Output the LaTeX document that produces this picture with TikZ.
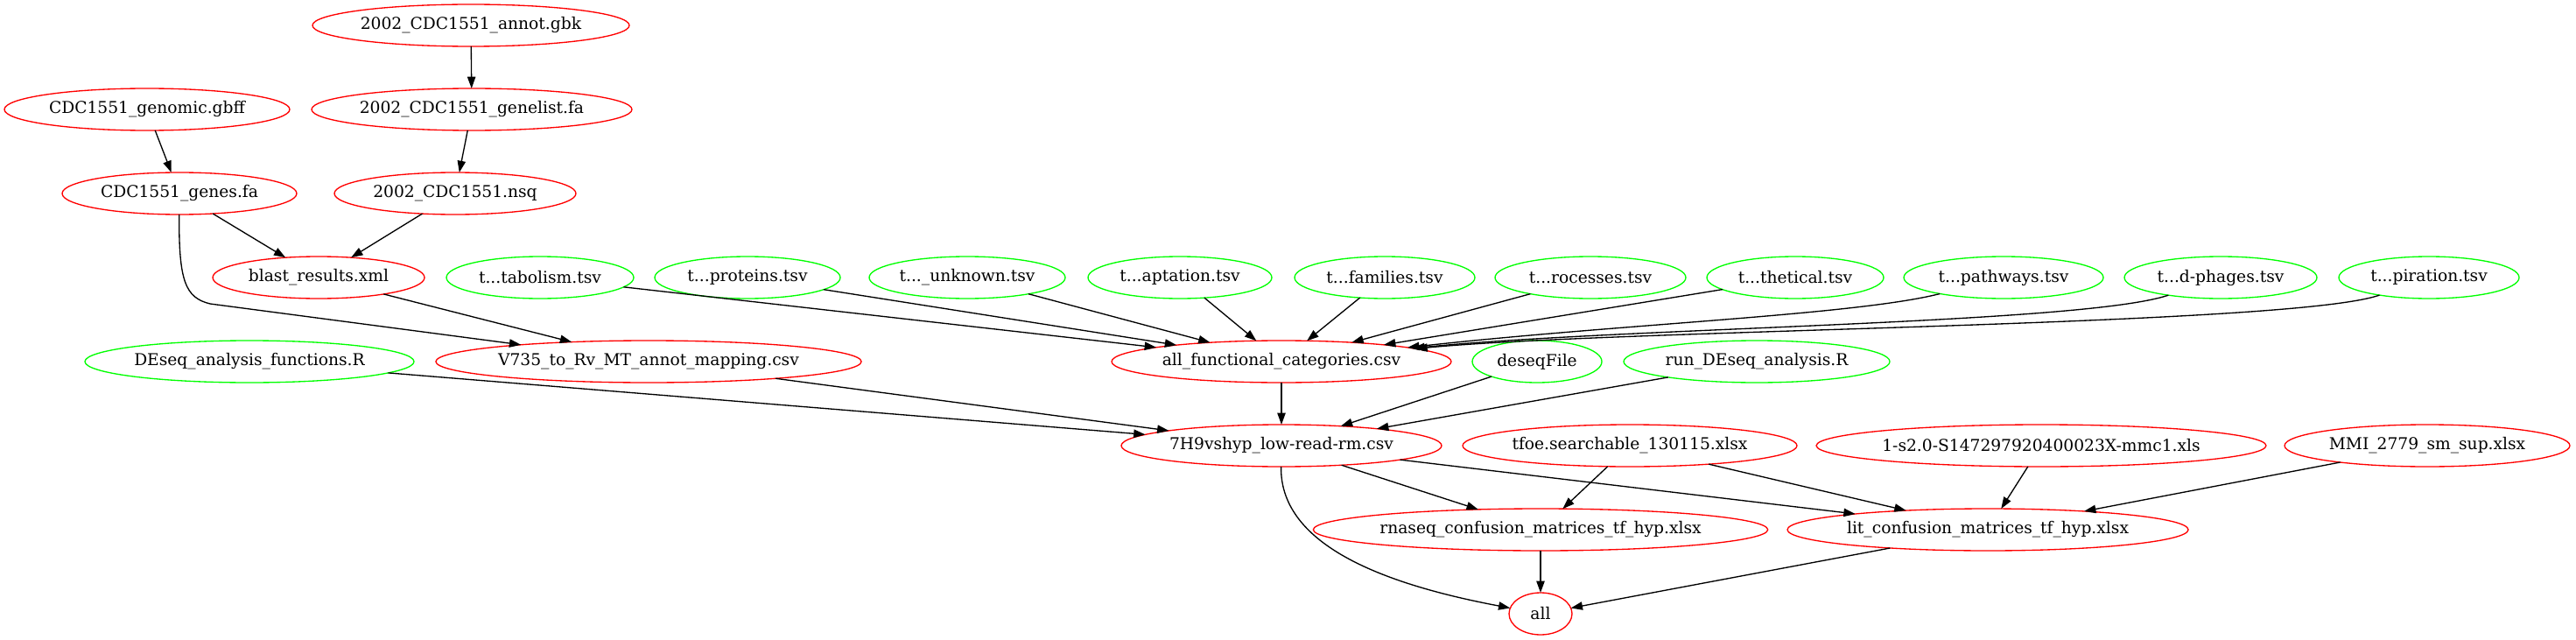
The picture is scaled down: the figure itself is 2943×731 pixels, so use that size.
\documentclass[tikz,border=0pt]{standalone}
\usepackage{fontspec}
\setmainfont{DejaVu Serif}
\usetikzlibrary{shapes.geometric,arrows.meta}
\begin{document}
\begin{tikzpicture}[x=0.75pt,y=-0.75pt,
  fnode/.style={ellipse,draw,line width=1pt,minimum height=36pt,inner sep=0pt,outer sep=0pt,font=\fontsize{14}{16}\selectfont},
  rn/.style={fnode,draw=red},
  gn/.style={fnode,draw=green},
  conn/.style={-{Triangle[length=10pt,width=7pt]},line width=1pt,black}]
\useasboundingbox (0,0) rectangle (2943,731);
\node[rn,minimum width=271.5pt] (annot) at (538,29) {2002\_CDC1551\_annot.gbk};
\node[rn,minimum width=244.5pt] (gbff) at (168,125) {CDC1551\_genomic.gbff};
\node[rn,minimum width=274.5pt] (genelist) at (539,125) {2002\_CDC1551\_genelist.fa};
\node[rn,minimum width=201pt] (genes) at (205,221) {CDC1551\_genes.fa};
\node[rn,minimum width=207pt] (nsq) at (520,221) {2002\_CDC1551.nsq};
\node[rn,minimum width=181.5pt] (blast) at (364,317) {blast\_results.xml};
\node[gn,minimum width=160.5pt] (tab) at (617,317) {t...tabolism.tsv};
\node[gn,minimum width=159pt] (prot) at (854,317) {t...proteins.tsv};
\node[gn,minimum width=168pt] (unk) at (1105,317) {t...\_unknown.tsv};
\node[gn,minimum width=157.5pt] (apt) at (1348,317) {t...aptation.tsv};
\node[gn,minimum width=154.5pt] (fam) at (1582,317) {t...families.tsv};
\node[gn,minimum width=163.5pt] (proc) at (1817,317) {t...rocesses.tsv};
\node[gn,minimum width=151.5pt] (hyp) at (2051,317) {t...thetical.tsv};
\node[gn,minimum width=171pt] (pathw) at (2289,317) {t...pathways.tsv};
\node[gn,minimum width=165pt] (phage) at (2537,317) {t...d-phages.tsv};
\node[gn,minimum width=154.5pt] (resp) at (2775,317) {t...piration.tsv};
\node[gn,minimum width=282pt] (dfun) at (285,413) {DEseq\_analysis\_functions.R};
\node[rn,minimum width=363pt] (v735) at (741,413) {V735\_to\_Rv\_MT\_annot\_mapping.csv};
\node[rn,minimum width=291pt] (afc) at (1464,413) {all\_functional\_categories.csv};
\node[gn,minimum width=111pt] (dfile) at (1756,413) {deseqFile};
\node[gn,minimum width=228pt] (run) at (2007,413) {run\_DEseq\_analysis.R};
\node[rn,minimum width=274.5pt] (h7) at (1464,509) {7H9vshyp\_low-read-rm.csv};
\node[rn,minimum width=286.5pt] (tfoe) at (1862,509) {tfoe.searchable\_130115.xlsx};
\node[rn,minimum width=381pt] (s2) at (2332,509) {1-s2.0-S147297920400023X-mmc1.xls};
\node[rn,minimum width=244.5pt] (mmi) at (2773,509) {MMI\_2779\_sm\_sup.xlsx};
\node[rn,minimum width=387pt] (rna) at (1760,605) {rnaseq\_confusion\_matrices\_tf\_hyp.xlsx};
\node[rn,minimum width=343.5pt] (lit) at (2271,605) {lit\_confusion\_matrices\_tf\_hyp.xlsx};
\node[rn,minimum width=54pt] (all) at (1760,701) {all};
% edges
\draw[conn] (annot) -- (genelist);
\draw[conn] (gbff) -- (genes);
\draw[conn] (genelist) -- (nsq);
\draw[conn] (genes) -- (blast);
\draw[conn] (nsq) -- (blast);
\draw[conn] (genes) .. controls (204,322) and (212,340) .. (240,347) -- (v735);
\draw[conn] (blast) -- (v735);
\draw[conn] (tab) -- (afc);
\draw[conn] (prot) -- (afc);
\draw[conn] (unk) -- (afc);
\draw[conn] (apt) -- (afc);
\draw[conn] (fam) -- (afc);
\draw[conn] (proc) -- (afc);
\draw[conn] (hyp) -- (afc);
\draw[conn] (pathw) .. controls (2120,360) and (1850,370) .. (afc);
\draw[conn] (phage) .. controls (2380,370) and (1850,374) .. (afc);
\draw[conn] (resp) .. controls (2620,372) and (1850,376) .. (afc);
\draw[conn] (dfun) -- (h7);
\draw[conn] (v735) -- (h7);
\draw[conn] (afc) -- (h7);
\draw[conn] (dfile) -- (h7);
\draw[conn] (run) -- (h7);
\draw[conn] (h7) -- (rna);
\draw[conn] (h7) -- (lit);
\draw[conn] (h7) .. controls (1462,620) and (1574,666) .. (all);
\draw[conn] (tfoe) -- (rna);
\draw[conn] (tfoe) -- (lit);
\draw[conn] (s2) -- (lit);
\draw[conn] (mmi) -- (lit);
\draw[conn] (rna) -- (all);
\draw[conn] (lit) -- (all);
\end{tikzpicture}
\end{document}
